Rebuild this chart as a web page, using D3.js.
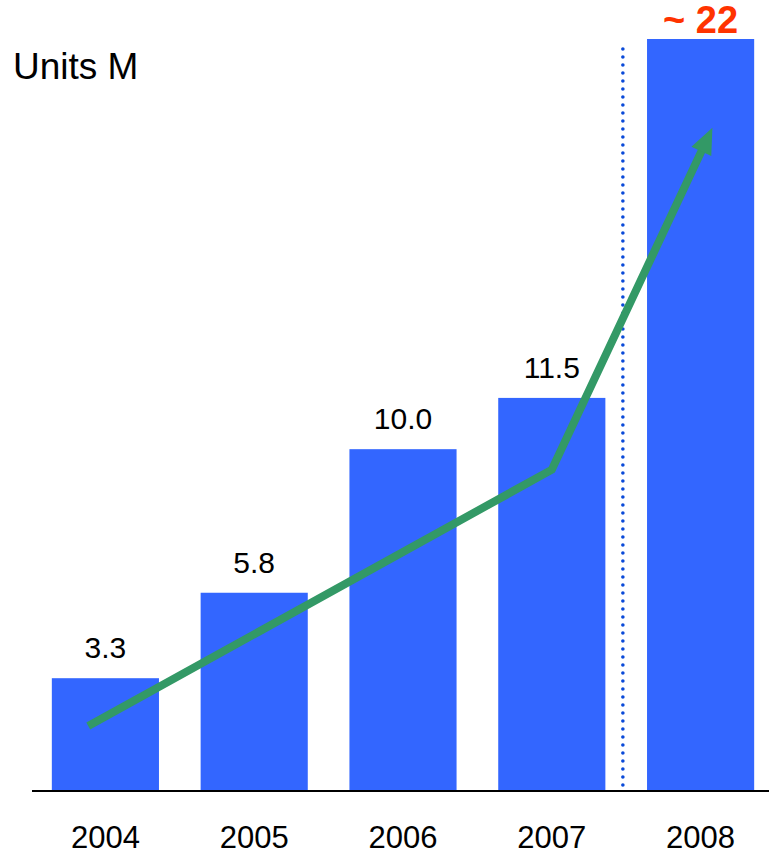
<!DOCTYPE html>
<html>
<head>
<meta charset="utf-8">
<script src="https://cdn.jsdelivr.net/npm/d3@7"></script>
<style>
  html, body { margin: 0; padding: 0; background: #ffffff; }
  svg { display: block; font-family: "Liberation Sans", Arial, sans-serif; }
</style>
</head>
<body>
<svg id="chart" width="769" height="854"></svg>
<script>
// Annual units (millions)
const years = ["2004", "2005", "2006", "2007", "2008"];
const units = [3.3, 5.8, 10.0, 11.5, 22];
const valueLabels = ["3.3", "5.8", "10.0", "11.5", "~ 22"];
const estimatedYear = "2008";

// Trend arrow: [year, position across the bar (0..1), value]
const trendYears = ["2004", "2007", "2008"];
const trendOffsets = [0.34, 0.5, 0.61];
const trendValues = [1.9, 9.4, 19.4];

const svg = d3.select("#chart");

const x = d3.scaleBand()
  .domain(years)
  .range([31, 775])
  .paddingInner(0.28)
  .paddingOuter(0.14);

const y = d3.scaleLinear()
  .domain([0, 22])
  .range([791, 39]);

const barColor = "#3366ff";
const trendColor = "#339966";

// Bars
svg.append("g")
  .selectAll("rect")
  .data(years)
  .join("rect")
  .attr("x", d => x(d))
  .attr("y", (d, i) => y(units[i]))
  .attr("width", x.bandwidth())
  .attr("height", (d, i) => y(0) - y(units[i]))
  .attr("fill", barColor);

// Dotted divider before the estimated year
const gap = x.step() - x.bandwidth();
const divX = x(estimatedYear) - gap * 0.58;
svg.append("line")
  .attr("x1", divX).attr("x2", divX)
  .attr("y1", 49).attr("y2", y(0) - 2)
  .attr("stroke", "#0a4ad8")
  .attr("stroke-width", 3.6)
  .attr("stroke-linecap", "round")
  .attr("stroke-dasharray", "0 8");

// Baseline axis
const xAxis = d3.axisBottom(x).tickSize(0).tickPadding(36);
const axisG = svg.append("g")
  .attr("transform", `translate(0,${y(0)})`)
  .call(xAxis);
axisG.select(".domain")
  .attr("d", `M32,0H769`)
  .attr("stroke", "#000")
  .attr("stroke-width", 2);
axisG.selectAll(".tick text")
  .attr("font-family", "Liberation Sans, Arial, sans-serif")
  .attr("font-size", 31)
  .attr("fill", "#000")
  .attr("dy", "0.71em")
  .attr("y", 35);

// Value labels
svg.append("g")
  .selectAll("text")
  .data(years)
  .join("text")
  .attr("x", d => x(d) + x.bandwidth() / 2)
  .attr("y", (d, i) => d === estimatedYear ? y(units[i]) - 6 : y(units[i]) - 20)
  .attr("text-anchor", "middle")
  .attr("font-size", (d) => d === estimatedYear ? 38 : 30)
  .attr("font-weight", d => d === estimatedYear ? "bold" : "normal")
  .attr("fill", d => d === estimatedYear ? "#ff3300" : "#000")
  .text((d, i) => valueLabels[i]);

// Unit title
svg.append("text")
  .attr("x", 13)
  .attr("y", 79)
  .attr("font-size", 37)
  .attr("fill", "#000")
  .text("Units M");

// Trend arrow
const pts = trendYears.map((yr, i) => [x(yr) + trendOffsets[i] * x.bandwidth(), y(trendValues[i])]);
const tip = pts[pts.length - 1];
const prev = pts[pts.length - 2];
const ang = Math.atan2(tip[1] - prev[1], tip[0] - prev[0]);
const headLen = 26, headHalf = 11;
const base = [tip[0] - headLen * Math.cos(ang), tip[1] - headLen * Math.sin(ang)];
const linePts = pts.slice(0, -1).concat([[tip[0] - (headLen - 2) * Math.cos(ang), tip[1] - (headLen - 2) * Math.sin(ang)]]);

svg.append("path")
  .attr("d", d3.line()(linePts))
  .attr("fill", "none")
  .attr("stroke", trendColor)
  .attr("stroke-width", 8)
  .attr("stroke-linejoin", "miter");

const nx = -Math.sin(ang), ny = Math.cos(ang);
svg.append("path")
  .attr("d", d3.line()([
    tip,
    [base[0] + nx * headHalf, base[1] + ny * headHalf],
    [base[0] - nx * headHalf, base[1] - ny * headHalf]
  ]) + "Z")
  .attr("fill", trendColor);
</script>
</body>
</html>
